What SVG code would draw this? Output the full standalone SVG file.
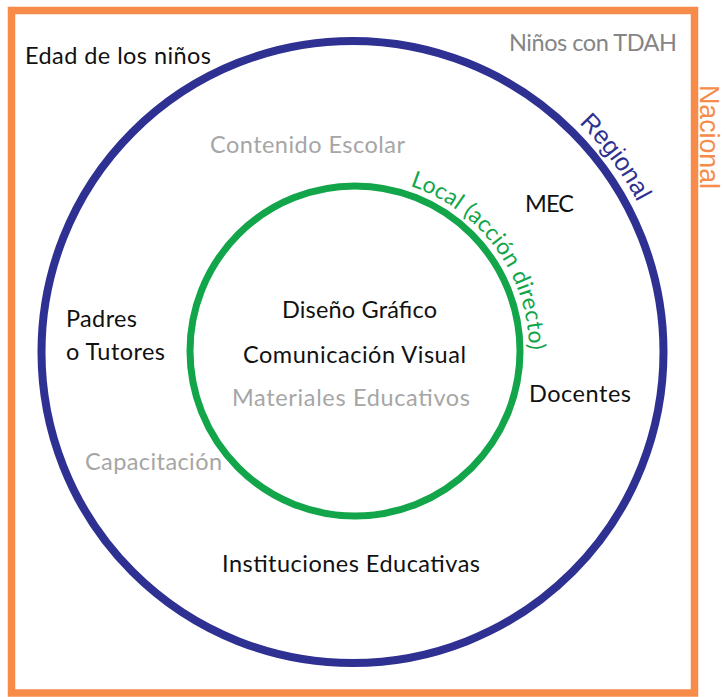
<svg xmlns="http://www.w3.org/2000/svg" width="726" height="697" viewBox="0 0 726 697">
<style>
  .t { font-family: Lato, "Open Sans", sans-serif; font-size: 23.5px; fill: #111111; }
  .g { fill: #a6a6a6; }
  .dg { fill: #858585; }
</style>
<defs>
  <path id="arcBlue" d="M 352.5,30 A 322 322 0 1 1 352.5,674 A 322 322 0 1 1 352.5,30"/>
  <path id="arcGreen" d="M 355,177 A 174 174 0 1 1 355,525 A 174 174 0 1 1 355,177"/>
</defs>
<rect width="726" height="697" fill="#ffffff"/>
<g id="nacional">
  <rect x="11.5" y="10.5" width="683" height="682.5" fill="none" stroke="#f68b4a" stroke-width="7.5"/>
  <text transform="translate(700,85) rotate(90)" font-family="'Liberation Sans', Arial, sans-serif" font-size="27" fill="#f68b4a" textLength="104" lengthAdjust="spacingAndGlyphs">Nacional</text>
</g>
<g id="regional">
  <circle cx="352.5" cy="352" r="311" fill="none" stroke="#2e3192" stroke-width="8"/>
  <text font-family="'Liberation Sans', Arial, sans-serif" font-size="25" fill="#2e3192"><textPath href="#arcBlue" startOffset="251">Regional</textPath></text>
</g>
<g id="local">
  <circle cx="355" cy="351" r="165" fill="none" stroke="#12a54a" stroke-width="7"/>
  <text font-family="Lato, 'Open Sans', sans-serif" font-size="23" fill="#12a54a"><textPath href="#arcGreen" startOffset="56" textLength="216" lengthAdjust="spacing">Local (acción directo)</textPath></text>
</g>
<g id="labels">
  <text class="t" x="25" y="64" textLength="186">Edad de los niños</text>
  <text class="t dg" x="509" y="51" textLength="168">Niños con TDAH</text>
  <text class="t g" x="210" y="153" textLength="195">Contenido Escolar</text>
  <text class="t" x="525" y="212" textLength="49">MEC</text>
  <text class="t" x="282" y="318" textLength="155">Diseño Gráfico</text>
  <text class="t" x="243" y="363" textLength="223">Comunicación Visual</text>
  <text class="t g" x="232" y="406" textLength="238">Materiales Educativos</text>
  <text class="t" x="66" y="327" textLength="71">Padres</text>
  <text class="t" x="66" y="360" textLength="99">o Tutores</text>
  <text class="t" x="529" y="402" textLength="102">Docentes</text>
  <text class="t g" x="85" y="470" textLength="137">Capacitación</text>
  <text class="t" x="222" y="572" textLength="258">Instituciones Educativas</text>
</g>
</svg>
